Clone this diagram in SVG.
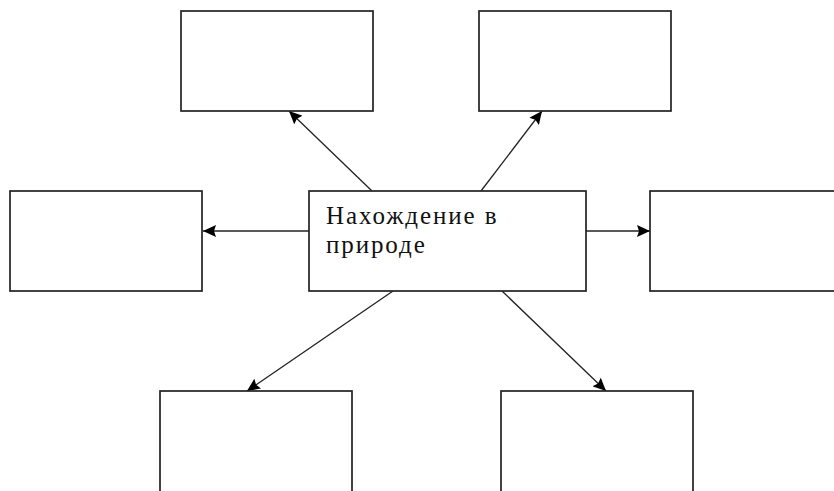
<svg xmlns="http://www.w3.org/2000/svg" width="834" height="491" viewBox="0 0 834 491">
<style>
.box{fill:#fff;stroke:#222;stroke-width:1.7}
.con{stroke:#222;stroke-width:1.3;fill:none;marker-end:url(#ah)}
.lbl{font-size:25px;fill:#111;letter-spacing:1.9px}
</style>
<defs>
<marker id="ah" viewBox="0 0 13 12" refX="13" refY="6" markerWidth="13" markerHeight="12" markerUnits="userSpaceOnUse" orient="auto">
<path d="M0,0 L13,6 L0,12 L2,6 Z" fill="#000"/>
</marker>
</defs>
<rect width="834" height="491" fill="#fff"/>
<g id="connectors">
<line class="con" x1="372" y1="191" x2="289" y2="111"/>
<line class="con" x1="481" y1="191" x2="542" y2="111"/>
<line class="con" x1="309" y1="231" x2="203" y2="231"/>
<line class="con" x1="586" y1="231" x2="650" y2="231"/>
<line class="con" x1="393" y1="291" x2="247" y2="391"/>
<line class="con" x1="502" y1="291" x2="606" y2="391"/>
</g>
<g id="center"><rect class="box" x="309" y="191" width="277" height="100"/>
<text class="lbl" font-family="'Liberation Serif', 'DejaVu Serif', serif" x="326" y="224">Нахождение в</text>
<text class="lbl" font-family="'Liberation Serif', 'DejaVu Serif', serif" x="326" y="253">природе</text></g>
<g id="top-left"><rect class="box" x="181" y="11" width="192" height="100"/></g>
<g id="top-right"><rect class="box" x="479" y="11" width="192" height="100"/></g>
<g id="left"><rect class="box" x="10" y="191" width="192" height="100"/></g>
<g id="right"><rect class="box" x="650" y="191" width="192" height="100"/></g>
<g id="bottom-left"><rect class="box" x="160" y="391" width="192" height="110"/></g>
<g id="bottom-right"><rect class="box" x="501" y="391" width="192" height="110"/></g>
</svg>
